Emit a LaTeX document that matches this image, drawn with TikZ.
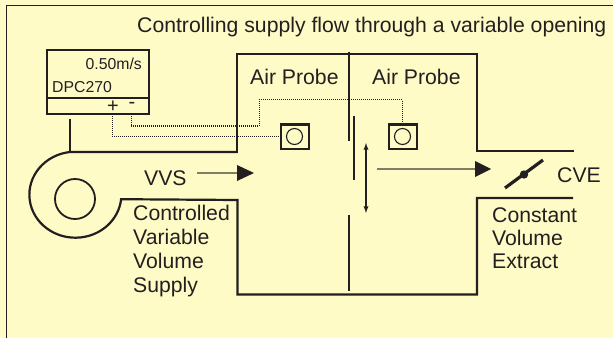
\documentclass[tikz,border=0pt]{standalone}
\usepackage{fontspec}
\setmainfont{Liberation Sans}
\usepackage[svgnames]{xcolor}
\usetikzlibrary{positioning, arrows, calc}
\definecolor{paper}{HTML}{FFFBC6}
\definecolor{ink}{HTML}{231F20}
\definecolor{flowgray}{HTML}{7F7E68}
\tikzset{
    duct/.style={draw=ink, line width=2.2pt, line cap=rect},
    blade/.style={draw=ink, line width=2.3pt},
    signal/.style={draw=ink, line width=1pt, dash pattern=on 1pt off 1pt},
    label/.style={text=ink, inner sep=0, anchor=base west, font=\fontsize{21.2}{24}\selectfont},
    small/.style={text=ink, inner sep=0, font=\fontsize{15.8}{18}\selectfont},
    probe/.style={draw=ink, line width=2pt, minimum width=28pt, minimum height=24pt, inner sep=0},
}
\begin{document}
\begin{tikzpicture}[x=1pt, y=1pt]
    \useasboundingbox (0,0) rectangle (613,338);
    \fill[paper] (0,0) rectangle (613,338);

    % frame
    \draw[ink, line width=1pt] (6.5,0) -- (6.5,332.5) -- (613,332.5);

    % meter
    \node[draw=ink, line width=2pt, minimum width=102pt, minimum height=64pt, inner sep=0] (meter) at (97.5,255.5) {};
    \draw[ink, line width=2pt] ($(meter.south west)+(0,17)$) -- ($(meter.south east)+(0,17)$);
    \node[small, anchor=base east] (speed) at (142,268) {0.50m/s};
    \node[small, anchor=base west] (model) at (52,245) {DPC270};
    \node[small, font=\fontsize{20}{24}\selectfont] (plus) at (113,231.5) {+};
    \node[small, font=\fontsize{20}{24}\selectfont] (minus) at (132,233) {-};

    % fan and supply duct
    \coordinate (link) at (70,219);
    \coordinate (fantop) at (70,186);
    \draw[ink, line width=1.3pt] (link) -- (fantop);
    \draw[duct, line cap=butt] (237,186) -- (fantop) arc (96.7:354:46pt and 43pt) -- (237.5,138) -- (237.5,43.5) -- (477,43.5) -- (477,140) -- (573,140);
    \draw[duct] (237,186) -- (237,284) -- (477,284) -- (477,187) -- (573,187);
    \node[circle, draw=ink, line width=1.8pt, minimum size=40pt, inner sep=0] (impeller) at (75,139) {};

    % damper blades
    \draw[blade] (349,286) -- (349,197);
    \draw[blade] (354,222) -- (354,158);
    \draw[blade] (349,123) -- (349,47);
    \draw[ink, line width=1.3pt, latex-latex] (366,195) -- (366,125);

    % probes
    \node[probe] (probea) at (294.5,201.5) {};
    \node[probe] (probeb) at (402.5,201.5) {};
    \foreach \point in {probea, probeb}
    {
        \draw[ink, line width=1.1pt] (\point) circle (8pt);
    }

    % tubes
    \coordinate (riser) at (259,212);
    \coordinate (crest) at (259,238);
    \draw[signal] (plus.south) ++(-1,-2) |- (probea.west);
    \draw[signal] (minus.south) ++(-1,-6) |- (riser) -- (crest) -| (probeb.north);

    % flow arrows
    \draw[flowgray, line width=1.3pt] (197,165) -- (238,165);
    \fill[ink] (237,173) -- (254,165) -- (237,157) -- cycle;
    \draw[flowgray, line width=1.3pt] (377,169) -- (476,169);
    \fill[ink] (475,177) -- (491,169) -- (475,161) -- cycle;

    % extract damper
    \draw[ink, line width=3.2pt] (505,150) -- (543,178);
    \fill[ink] (524,163.5) circle (4.2pt);

    % labels
    \foreach \name/\x/\y/\txt in {
        title/137/305/{Controlling supply flow through a variable opening},
        aira/250/253/{Air Probe},
        airb/372/253/{Air Probe},
        vvs/144/153/{VVS},
        cve/557/156/{CVE},
        sa/133/118/{Controlled},
        sb/133/94/{Variable},
        sc/133/70/{Volume},
        sd/133/46/{Supply},
        ea/492/116/{Constant},
        eb/492/93/{Volume},
        ec/492/70/{Extract}}{
        \node[label] (\name) at (\x,\y) {\txt};
    }
\end{tikzpicture}
\end{document}
